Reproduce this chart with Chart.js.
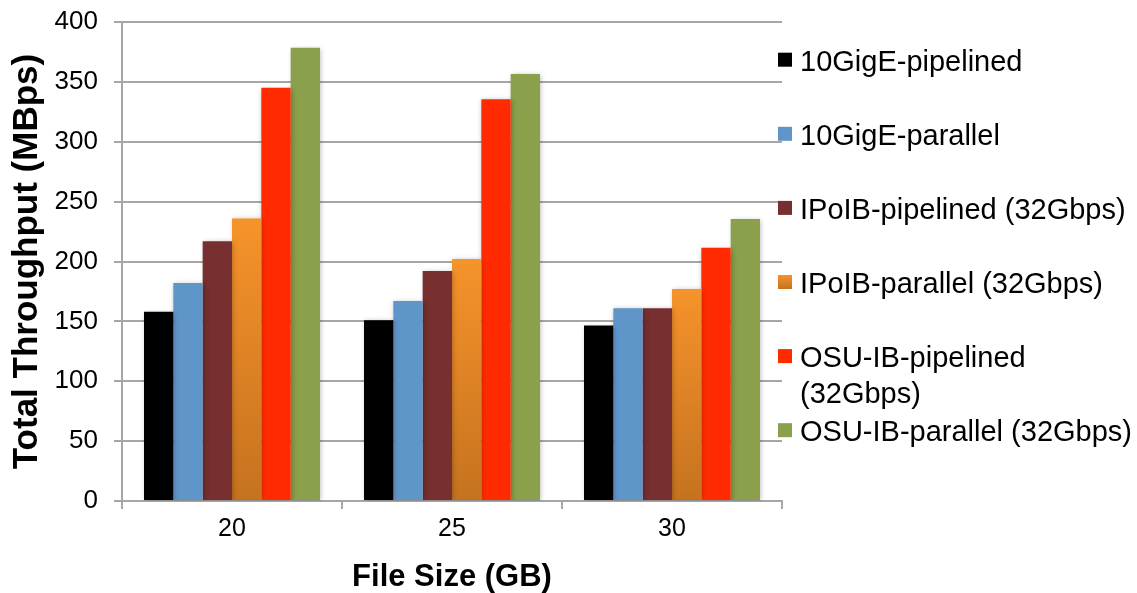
<!DOCTYPE html>
<html>
<head>
<meta charset="utf-8">
<script src="https://cdn.jsdelivr.net/npm/chart.js@4.4.1/dist/chart.umd.min.js"></script>
<style>
  html, body { margin: 0; padding: 0; background: #ffffff; }
  #wrap { width: 1137px; height: 593px; position: relative; }
</style>
</head>
<body>
<div id="wrap"><canvas id="chart" width="1137" height="593"></canvas></div>
<script>
// File sizes on the x axis (GB)
const fileSizes = ['20', '25', '30'];

// Total throughput per transfer mode (MBps)
const tenGigEPipelined   = [158, 151, 146.5];
const tenGigEParallel    = [182, 167, 161];
const ipoibPipelined     = [217, 192, 161];
const ipoibParallel      = [236, 202, 177];
const osuIbPipelined     = [345, 335.5, 211.5];
const osuIbParallel      = [378.5, 356.5, 235.5];

// Series names (an array means the name wraps onto several lines)
const seriesNames = [
  '10GigE-pipelined',
  '10GigE-parallel',
  'IPoIB-pipelined (32Gbps)',
  'IPoIB-parallel (32Gbps)',
  ['OSU-IB-pipelined', '(32Gbps)'],
  'OSU-IB-parallel (32Gbps)'
];

// Y axis tick values
const yTickValues = [0, 50, 100, 150, 200, 250, 300, 350, 400];

const FONT = '"Liberation Sans", Arial, Helvetica, sans-serif';
const GRID = '#a6a6a6';

const ORANGE_TOP = '#f6932b';
const ORANGE_BOTTOM = '#c5721f';

// Vertical gradient for the IPoIB-parallel bars, running from each bar's top to the baseline
function orangeFill(ctx) {
  const chart = ctx.chart;
  const y = chart.scales && chart.scales.y;
  if (ctx.type !== 'data' || !y) return ORANGE_TOP;
  const top = y.getPixelForValue(ctx.raw);
  const base = y.getPixelForValue(0);
  if (!isFinite(top) || !isFinite(base)) return ORANGE_TOP;
  const g = chart.ctx.createLinearGradient(0, top, 0, base);
  g.addColorStop(0, ORANGE_TOP);
  g.addColorStop(1, ORANGE_BOTTOM);
  return g;
}

const seriesColors = ['#000000', '#5f95c9', '#772f2f', null, '#ff2a00', '#8ba04a'];
const seriesValues = [tenGigEPipelined, tenGigEParallel, ipoibPipelined, ipoibParallel, osuIbPipelined, osuIbParallel];

const datasets = seriesValues.map((vals, i) => ({
  label: Array.isArray(seriesNames[i]) ? seriesNames[i].join(' ') : seriesNames[i],
  data: vals,
  backgroundColor: seriesColors[i] || orangeFill,
  borderWidth: 0,
  categoryPercentage: 0.8,
  barPercentage: 1.0
}));

// Soft drop shadow behind the bars
const barShadow = {
  id: 'barShadow',
  beforeDatasetsDraw(chart) {
    const c = chart.ctx;
    c.save();
    c.shadowColor = 'rgba(0,0,0,0.28)';
    c.shadowBlur = 5;
    c.shadowOffsetX = 1;
    c.shadowOffsetY = 1;
  },
  afterDatasetsDraw(chart) {
    chart.ctx.restore();
  }
};

// Legend column on the right of the plot
const sideLegend = {
  id: 'sideLegend',
  afterDraw(chart) {
    const c = chart.ctx;
    const x0 = chart.chartArea.right - 4;
    const firstCenter = 59.7;
    const step = 74.1;
    const box = 14;
    const lineGap = 36;
    c.save();
    c.font = '29px ' + FONT;
    c.textAlign = 'left';
    c.textBaseline = 'middle';
    seriesNames.forEach((name, i) => {
      const cy = firstCenter + i * step;
      let fill = seriesColors[i];
      if (!fill) {
        fill = c.createLinearGradient(0, cy - box / 2, 0, cy + box / 2);
        fill.addColorStop(0, ORANGE_TOP);
        fill.addColorStop(1, ORANGE_BOTTOM);
      }
      c.fillStyle = fill;
      c.fillRect(x0, cy - box / 2, box, box);
      c.fillStyle = '#000000';
      const lines = Array.isArray(name) ? name : [name];
      lines.forEach((ln, j) => c.fillText(ln, x0 + 22, cy + 3 + j * lineGap));
    });
    c.restore();
  }
};

new Chart(document.getElementById('chart'), {
  type: 'bar',
  data: { labels: fileSizes, datasets },
  options: {
    responsive: false,
    devicePixelRatio: 1,
    animation: false,
    layout: { padding: { left: 0, top: 22, right: 355, bottom: 0 } },
    plugins: {
      legend: { display: false },
      tooltip: { enabled: false }
    },
    scales: {
      x: {
        offset: true,
        grid: {
          offset: true,
          drawOnChartArea: false,
          color: GRID,
          lineWidth: 2,
          tickLength: 8
        },
        border: { color: GRID, width: 2 },
        ticks: {
          color: '#000000',
          font: { family: FONT, size: 25 },
          padding: 5
        },
        title: {
          display: true,
          text: 'File Size (GB)',
          color: '#000000',
          font: { family: FONT, size: 31, weight: 'bold', lineHeight: 1 },
          padding: { top: 0, bottom: 0 }
        },
        afterFit(scale) {
          scale.height = 92;
          scale.paddingLeft = 0;
          scale.paddingRight = 0;
        }
      },
      y: {
        min: 0,
        max: 400,
        afterBuildTicks(scale) { scale.ticks = yTickValues.map(v => ({ value: v })); },
        grid: {
          color: GRID,
          lineWidth: 2,
          tickLength: 8
        },
        border: { color: GRID, width: 2 },
        ticks: {
          color: '#000000',
          font: { family: FONT, size: 26 },
          padding: 16
        },
        title: {
          display: true,
          text: 'Total Throughput (MBps)',
          color: '#000000',
          font: { family: FONT, size: 35, weight: 'bold', lineHeight: 1 },
          padding: { top: 10, bottom: 0 }
        },
        afterFit(scale) {
          scale.width = 122;
          scale.paddingTop = 0;
          scale.paddingBottom = 0;
        }
      }
    }
  },
  plugins: [barShadow, sideLegend]
});
</script>
</body>
</html>
